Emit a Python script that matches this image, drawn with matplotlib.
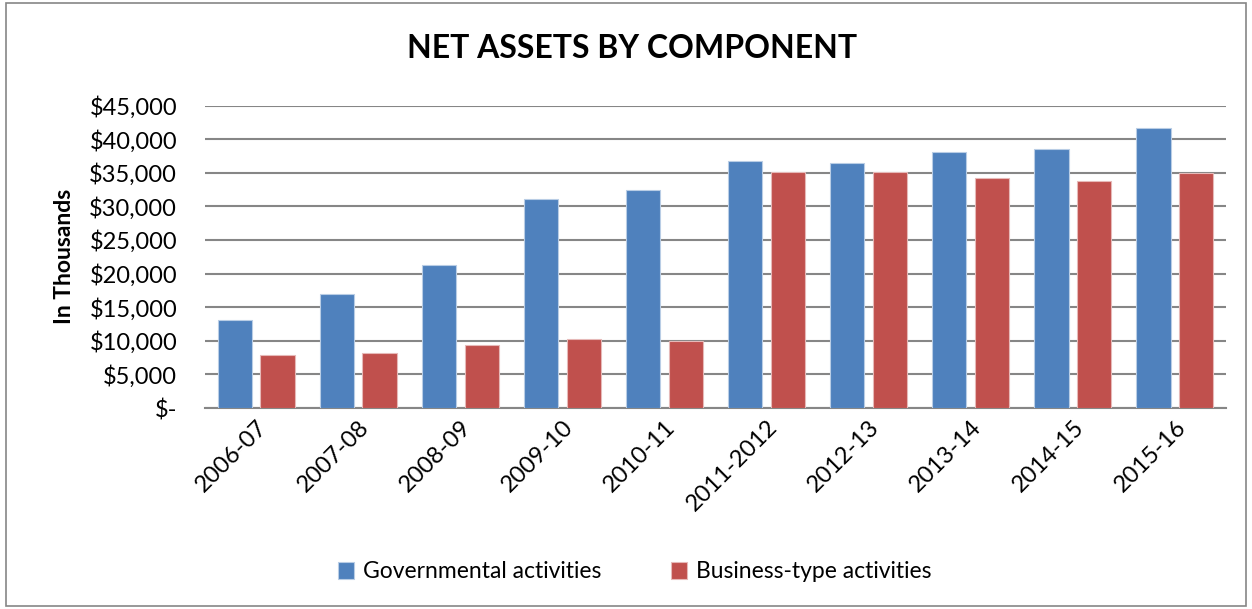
import matplotlib
matplotlib.use("Agg")
import matplotlib.pyplot as plt
import numpy as np
from matplotlib.patches import Rectangle
from matplotlib.ticker import FuncFormatter

categories = ["2006-07", "2007-08", "2008-09", "2009-10", "2010-11",
              "2011-2012", "2012-13", "2013-14", "2014-15", "2015-16"]
governmental = [13050, 16950, 21200, 31050, 32500, 36750, 36500, 38100, 38600, 41700]
business = [7850, 8150, 9350, 10250, 9950, 35100, 35100, 34200, 33800, 34900]
yticks = [0, 5000, 10000, 15000, 20000, 25000, 30000, 35000, 40000, 45000]

plt.rcParams['font.family'] = ['Lato', 'DejaVu Sans']

fig = plt.figure(figsize=(12.52, 6.09), dpi=100)
ax = fig.add_axes([205/1252, 1 - 408/609, (1226-205)/1252, (408-105.5)/609])

x = np.arange(len(categories))
w = 0.335
off = 0.21
blue = "#4f81bd"
red = "#c0504d"
ax.bar(x - off, governmental, w, color=blue, edgecolor="#b9cde5", linewidth=0.8,
       label="Governmental activities", zorder=3)
ax.bar(x + off, business, w, color=red, edgecolor="#e6b9b8", linewidth=0.8,
       label="Business-type activities", zorder=3)

ax.set_xlim(-0.5, len(categories) - 0.5)
ax.set_ylim(0, 45000)
ax.set_yticks(yticks)

def fmt(v, pos):
    if v == 0:
        return "$-"
    return "${:,.0f}".format(v)
ax.yaxis.set_major_formatter(FuncFormatter(fmt))
ax.grid(axis='y', color="#868686", linewidth=1.5, zorder=0)
for s in ["top", "right", "left"]:
    ax.spines[s].set_visible(False)
ax.spines["bottom"].set_color("#868686")
ax.spines["bottom"].set_linewidth(1.5)
ax.tick_params(axis='y', length=0, labelsize=17, pad=20)
ax.tick_params(axis='x', length=0, labelsize=17, pad=6)
ax.set_xticks(x)
ax.set_xticklabels(categories, rotation=45, ha='right', rotation_mode='anchor')
ax.set_ylabel("In Thousands", fontsize=16.5, fontweight='bold', labelpad=10)

fig.text(0.505, 1 - 48/609, "NET ASSETS BY COMPONENT", ha='center', va='center',
         fontsize=23, fontweight='bold')

leg = fig.legend(loc='center', bbox_to_anchor=(0.507, 1 - 572/609), ncol=2, frameon=False,
                 fontsize=16.5, handlelength=0.7, handleheight=0.7, columnspacing=3.0,
                 handletextpad=0.4)

fig.patches.append(Rectangle((6/1252, 3/609), (1246-6)/1252, (606-3)/609,
                             transform=fig.transFigure, fill=False,
                             edgecolor="#868686", linewidth=1.2))

fig.savefig("out.png", dpi=100)
